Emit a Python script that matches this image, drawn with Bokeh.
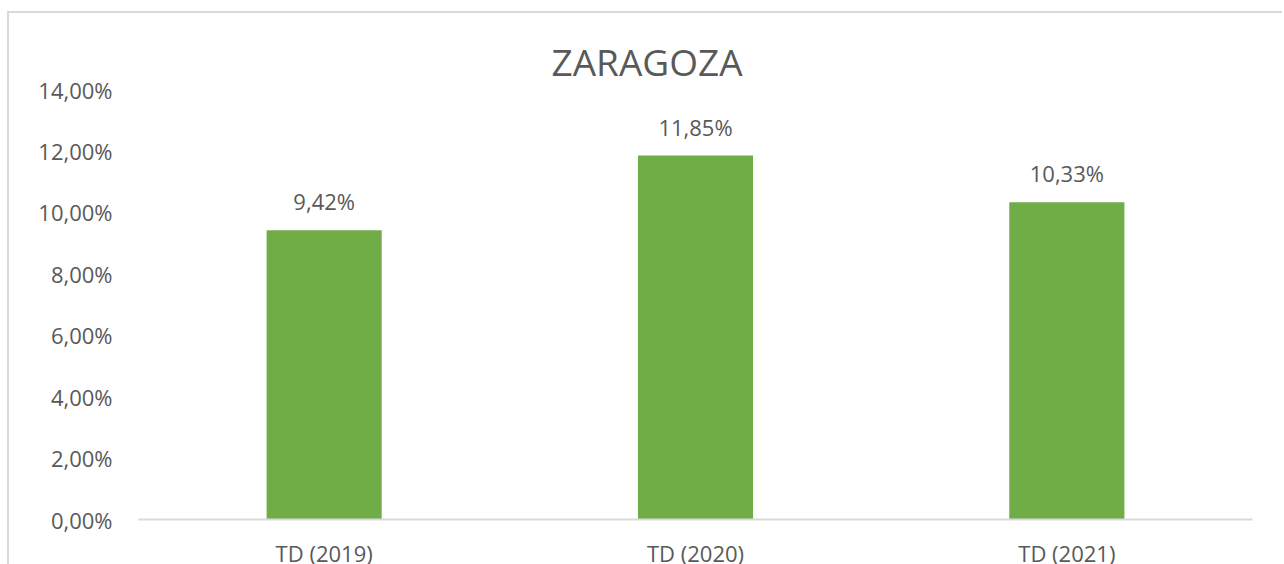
from bokeh.plotting import figure
from bokeh.models import FactorRange, Range1d, FixedTicker, ColumnDataSource
from bokeh.core.properties import value
from bokeh.embed import file_html
from bokeh.resources import INLINE

categories = ["TD (2019)", "TD (2020)", "TD (2021)"]
values = [9.42, 11.85, 10.33]
value_labels = ["9,42%", "11,85%", "10,33%"]
y_ticks = [0, 2, 4, 6, 8, 10, 12, 14]
y_tick_labels = ["0,00%", "2,00%", "4,00%", "6,00%", "8,00%", "10,00%", "12,00%", "14,00%"]

FONT = "Open Sans"
GREY = "#595959"

p = figure(x_range=FactorRange(*categories), y_range=Range1d(0, 14),
           width=1275, height=557, output_backend="svg", toolbar_location=None,
           min_border_left=129, min_border_right=32, min_border_top=76, min_border_bottom=46)
p.styles = {"border-left": "2px solid #d9d9d9", "border-top": "2px solid #d9d9d9",
            "margin-left": "7px", "margin-top": "11px"}

src = ColumnDataSource(dict(cat=categories, val=values, lab=value_labels))
p.vbar(x="cat", top="val", width=0.31, source=src, fill_color="#70AD47", line_color=None)
p.text(x="cat", y="val", text="lab", source=src, text_align="center", text_baseline="alphabetic",
       y_offset=-29, text_font=value(FONT), text_font_size="22px", text_color=GREY)

p.title.text = "ZARAGOZA"
p.title.align = "left"
p.title.offset = 413
p.title.text_font = FONT
p.title.text_font_size = "37px"
p.title.text_font_style = "normal"
p.title.text_color = GREY
p.title.standoff = 6

p.xgrid.grid_line_color = None
p.ygrid.grid_line_color = None
p.outline_line_color = None

p.yaxis.ticker = FixedTicker(ticks=y_ticks)
p.yaxis.major_label_overrides = {t: l for t, l in zip(y_ticks, y_tick_labels)}
p.yaxis.axis_line_color = None
p.yaxis.major_tick_line_color = None
p.yaxis.minor_tick_line_color = None
p.yaxis.major_label_standoff = 20

p.xaxis.axis_line_color = "#d9d9d9"
p.xaxis.axis_line_width = 2
p.xaxis.major_tick_line_color = None
p.xaxis.minor_tick_line_color = None
p.xaxis.major_label_standoff = 12

for ax in (p.xaxis, p.yaxis):
    ax.major_label_text_font = FONT
    ax.major_label_text_font_size = "22px"
    ax.major_label_text_color = GREY

open("out.html", "w").write(file_html(p, INLINE))
